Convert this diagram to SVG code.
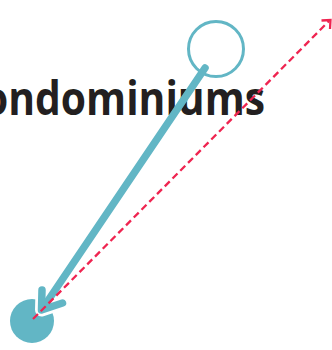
<svg xmlns="http://www.w3.org/2000/svg" width="332" height="350" viewBox="0 0 332 350">
<style>
.lbl{font-family:"Open Sans","Liberation Sans",sans-serif;font-weight:bold;font-size:47px;fill:#231f20}
.teal{stroke:#62b6c5;fill:none;stroke-linecap:round;stroke-linejoin:round}
.red{stroke:#ef2450;fill:none;stroke-width:2.3}
</style>
<g id="label">
<text class="lbl" x="265" y="115" text-anchor="end" textLength="282" lengthAdjust="spacingAndGlyphs">ondominiums</text>
</g>
<g id="node-source">
<circle cx="216" cy="49" r="27.5" fill="none" stroke="#62b6c5" stroke-width="3"/>
</g>
<g id="node-target">
<circle cx="32" cy="321" r="22" fill="#62b6c5"/>
</g>
<g id="connectors">
<polyline points="42,290 41.5,310 62.5,303" fill="none" stroke="#fff" stroke-width="13" stroke-linecap="round" stroke-linejoin="round"/>
<line class="teal" x1="205" y1="68" x2="43" y2="308" stroke-width="7.5"/>
<polyline class="teal" points="42,290 41.5,310 62.5,303" stroke-width="7.5"/>
<line class="red" x1="33" y1="319" x2="329" y2="21" stroke-dasharray="7,4"/>
<polyline class="red" points="321.5,20.5 330.5,20 330,29" stroke-linejoin="miter"/>
</g>
</svg>
